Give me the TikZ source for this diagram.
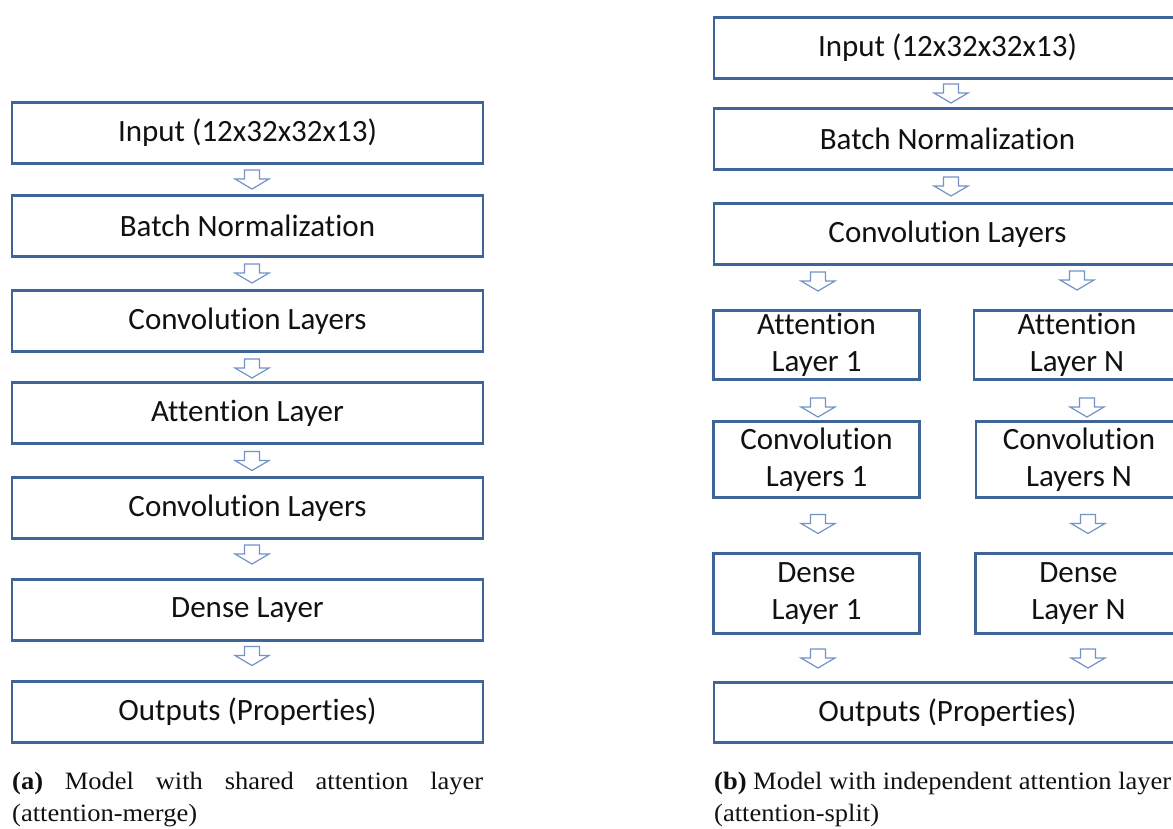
\documentclass[tikz,border=0pt]{standalone}
\usepackage{fontspec}
\newfontfamily\boxfontfam[Ligatures={NoCommon,NoRequired,NoContextual}]{Carlito}
\newfontfamily\capfontfam[FakeStretch=1.06]{Liberation Serif}
\definecolor{boxblue}{HTML}{3F6597}
\definecolor{arrblue}{HTML}{7393C4}
\definecolor{txt}{HTML}{111111}
\tikzset{
  layerbox/.style={draw=boxblue, line width=2.3pt, fill=white, inner sep=0pt, align=center,
    text=txt, font=\boxfontfam\fontsize{31}{37}\selectfont},
  widebox/.style={layerbox, minimum width=471pt, minimum height=61pt},
  widerbox/.style={layerbox, minimum width=467pt, minimum height=61pt},
  smallbox/.style={layerbox, minimum width=206pt},
  arrline/.style={draw=arrblue, line width=1.2pt, line join=miter, fill=white},
  darr/.pic={\path[arrline] (-7.5,-9.5) -- (7.5,-9.5) -- (7.5,-0.5) -- (17,-0.5) -- (0,9.5) -- (-17,-0.5) -- (-7.5,-0.5) -- cycle;},
  captext/.style={inner sep=0pt, anchor=base west, text=txt, font=\capfontfam\fontsize{25}{32}\selectfont}
}
\begin{document}
\begin{tikzpicture}[x=1pt, y=-1pt]
\useasboundingbox (0,0) rectangle (1173,828);
\clip (0,0) rectangle (1173,828);
% ---------- panel (a) ----------
\node[widebox] (l1) at (247.5,133) {Input (12x32x32x13)};
\node[widebox] (l2) at (247.5,226) {Batch Normalization};
\node[widebox] (l3) at (247.5,321) {Convolution Layers};
\node[widebox] (l4) at (247.5,413) {Attention Layer};
\node[widebox] (l5) at (247.5,508) {Convolution Layers};
\node[widebox] (l6) at (247.5,610) {Dense Layer};
\node[widebox] (l7) at (247.5,712) {Outputs (Properties)};
\pic (la1) at (252,179.5) {darr};
\pic (la2) at (252,273.5) {darr};
\pic (la3) at (252,368.5) {darr};
\pic (la4) at (252,461) {darr};
\pic (la5) at (252,554.5) {darr};
\pic (la6) at (252,656) {darr};
% ---------- panel (b) ----------
\node[widerbox] (r1) at (947.5,48) {Input (12x32x32x13)};
\node[widerbox] (r2) at (947.5,139) {Batch Normalization};
\node[widerbox] (r3) at (947.5,234) {Convolution Layers};
\node[smallbox, minimum height=69pt] (r4a) at (816.5,345) {Attention\\Layer 1};
\node[smallbox, minimum height=69pt] (r4b) at (1077,345) {Attention\\Layer N};
\node[smallbox, minimum height=76pt] (r5a) at (816.5,459.5) {Convolution\\Layers 1};
\node[smallbox, minimum height=76pt] (r5b) at (1079,459.5) {Convolution\\Layers N};
\node[smallbox, minimum height=80pt] (r6a) at (816.5,593.5) {Dense\\Layer 1};
\node[smallbox, minimum height=80pt] (r6b) at (1078.5,593.5) {Dense\\Layer N};
\node[widerbox, minimum height=60pt] (r7) at (947.5,712.5) {Outputs (Properties)};
\pic (ra1) at (951,93.5) {darr};
\pic (ra2) at (951,186.5) {darr};
\pic (ra3a) at (818,281.5) {darr};
\pic (ra3b) at (1077,280.5) {darr};
\pic (ra4a) at (818,407.5) {darr};
\pic (ra4b) at (1087,407.5) {darr};
\pic (ra5a) at (818,524) {darr};
\pic (ra5b) at (1088,524) {darr};
\pic (ra6a) at (818,658.5) {darr};
\pic (ra6b) at (1088,658.5) {darr};
% ---------- captions ----------
\node[captext] (capa1) at (12,789) {\makebox[471pt][s]{\textbf{(a)} Model with shared attention layer}};
\node[captext] (capa2) at (12,821) {(attention-merge)};
\node[captext] (capb1) at (714,789) {\textbf{(b)} Model with independent attention layer};
\node[captext] (capb2) at (714,821) {(attention-split)};
\end{tikzpicture}
\end{document}
